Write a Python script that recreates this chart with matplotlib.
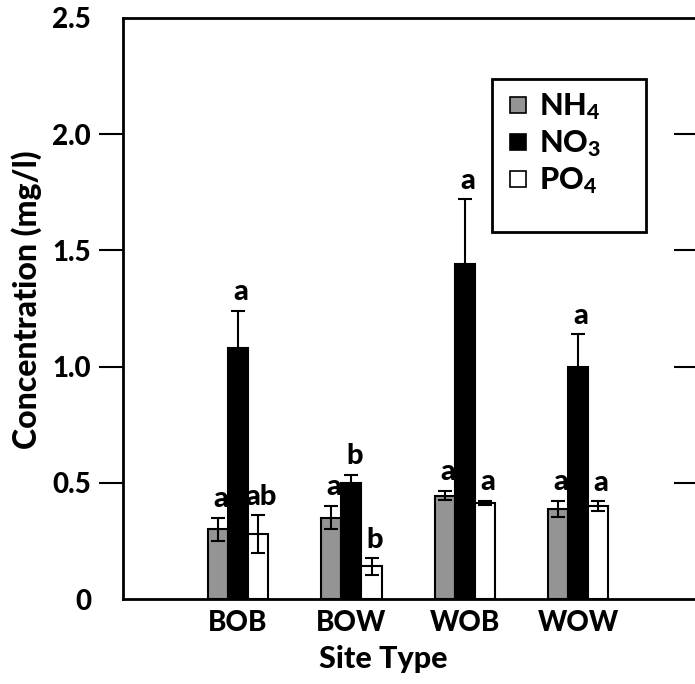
import matplotlib
matplotlib.use("Agg")
import matplotlib.pyplot as plt
import numpy as np
from matplotlib.patches import Rectangle
from matplotlib.lines import Line2D

sites = ["BOB", "BOW", "WOB", "WOW"]
nh4 = [0.30, 0.35, 0.445, 0.387]
nh4_err = [0.05, 0.05, 0.02, 0.035]
no3 = [1.08, 0.50, 1.44, 1.00]
no3_err = [0.16, 0.035, 0.28, 0.14]
po4 = [0.28, 0.14, 0.413, 0.40]
po4_err = [0.08, 0.035, 0.01, 0.02]
nh4_let = ["a", "a", "a", "a"]
no3_let = ["a", "b", "a", "a"]
po4_let = ["ab", "b", "a", "a"]

plt.rcParams['font.family'] = ['Lato', 'DejaVu Sans']
plt.rcParams['font.weight'] = 'black'
plt.rcParams['mathtext.fontset'] = 'custom'
plt.rcParams['mathtext.rm'] = 'Lato:black'
plt.rcParams['mathtext.bf'] = 'Lato:black'
plt.rcParams['mathtext.it'] = 'Lato:black'

fig = plt.figure(figsize=(6.95, 6.84), dpi=100)
ax = fig.add_axes([123/695, 1 - 599/684, 1 - 123/695, (599 - 18)/684])

x = np.arange(len(sites))
w = 0.177
series = [(nh4, nh4_err, nh4_let, "#949494", -w),
          (no3, no3_err, no3_let, "black", 0),
          (po4, po4_err, po4_let, "white", w)]
for vals, errs, lets, col, off in series:
    ax.bar(x + off, vals, w, color=col, edgecolor="black", linewidth=1.5, zorder=2)
    ax.errorbar(x + off, vals, yerr=errs, fmt="none", ecolor="black",
                elinewidth=1.5, capsize=5, capthick=1.5, zorder=3)
    for xi, v, e, t in zip(x + off, vals, errs, lets):
        ax.annotate(t, (xi, v + e), xytext=(2, 4), textcoords="offset points",
                    ha="center", va="bottom", fontsize=21, fontweight="black")

ax.set_xlim(-1.015, 4.03)
ax.set_ylim(0, 2.5)
ax.set_yticks([0, 0.5, 1.0, 1.5, 2.0, 2.5])
ax.set_yticklabels(["0", "0.5", "1.0", "1.5", "2.0", "2.5"])
ax.set_xticks(x)
ax.set_xticklabels(sites)

ax.tick_params(axis="y", which="major", direction="out", length=17, width=1.5,
               labelsize=20, pad=6, right=True)
ax.tick_params(axis="x", length=0, labelsize=20, pad=8)
for t in ax.yaxis.get_major_ticks():
    t.tick2line.set_markersize(15)
    t.tick2line.set_marker(0)
for t in [ax.yaxis.get_major_ticks()[0], ax.yaxis.get_major_ticks()[-1]]:
    t.tick1line.set_visible(False)
    t.tick2line.set_visible(False)

for s in ["left", "top", "bottom"]:
    ax.spines[s].set_linewidth(2)
ax.spines["right"].set_visible(False)

ax.set_xlabel("Site Type", fontsize=22, fontweight="black")
ax.xaxis.set_label_coords(0.455, -0.08)
ax.set_ylabel("Concentration (mg/l)", fontsize=23, fontweight="black")
ax.yaxis.set_label_coords(-0.142, 0.515)

handles = [Line2D([], [], marker="s", ls="none", markersize=11, markerfacecolor=c,
                  markeredgecolor="black", markeredgewidth=1.2)
           for c in ["#949494", "black", "white"]]
labels = [r"NH$_\mathregular{4}$", r"NO$_\mathregular{3}$", r"PO$_\mathregular{4}$"]
fig.legend(handles, labels, loc="upper left", bbox_to_anchor=(481/695, 1 - 70/684),
           frameon=False, fontsize=22, handletextpad=0.2, labelspacing=0.2,
           handlelength=1.0, borderpad=0.2)
fig.patches.append(Rectangle((492/695, 1 - 232/684), (646 - 492)/695, (232 - 79)/684,
                             transform=fig.transFigure, fill=False, edgecolor="black",
                             linewidth=2, figure=fig))

fig.savefig("out.png", dpi=100)
